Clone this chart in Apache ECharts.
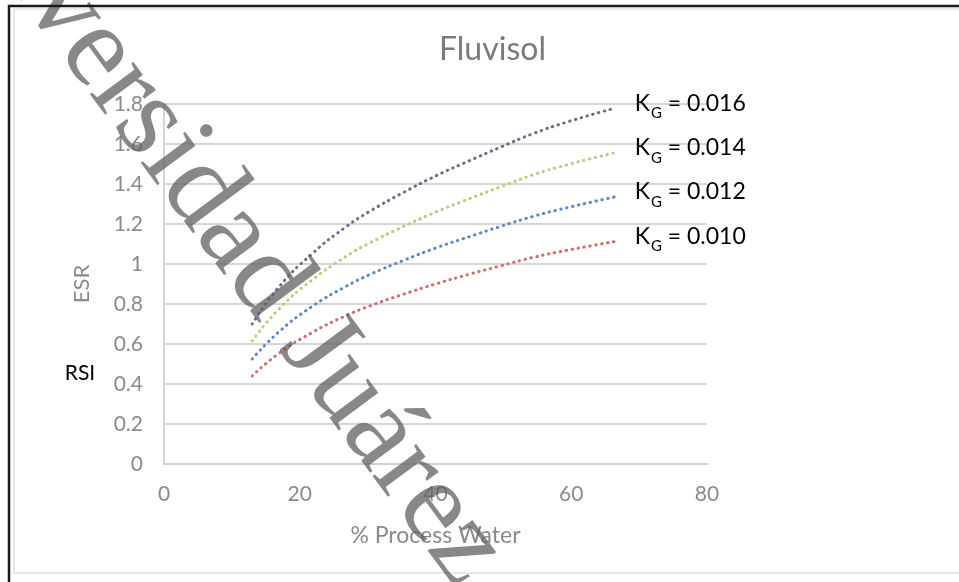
<!DOCTYPE html>
<html><head><meta charset="utf-8">
<script src="https://cdn.jsdelivr.net/npm/echarts@6/dist/echarts.min.js"></script>
<style>html,body{margin:0;padding:0;background:#fff}#c{width:959px;height:582px}</style>
</head><body><div id="c"></div>
<script>
// % Process Water (x) shared by all curves
const processWater = [13, 16.8, 21.7, 26.7, 30.3, 35.3, 40.2, 45.1, 49.5, 54.4, 59.3, 66.4];
// ESR for each K_G
const esrKg010 = [0.44, 0.55, 0.655, 0.74, 0.79, 0.849, 0.902, 0.95, 0.99, 1.033, 1.068, 1.112];
const esrKg012 = [0.525, 0.657, 0.785, 0.886, 0.947, 1.018, 1.082, 1.138, 1.187, 1.238, 1.281, 1.335];
const esrKg014 = [0.615, 0.77, 0.917, 1.035, 1.105, 1.188, 1.262, 1.328, 1.385, 1.446, 1.495, 1.556];
const esrKg016 = [0.70, 0.88, 1.048, 1.183, 1.263, 1.358, 1.443, 1.518, 1.583, 1.652, 1.709, 1.779];
const kgValues = ['0.010', '0.012', '0.014', '0.016'];
const seriesColors = ['#cc706d', '#6088c0', '#bccb84', '#6f6b8f'];

const chart = echarts.init(document.getElementById('c'), null, {renderer: 'canvas'});
const allEsr = [esrKg010, esrKg012, esrKg014, esrKg016];

const series = allEsr.map((vals, i) => ({
  type: 'line',
  name: 'K_G = ' + kgValues[i],
  data: processWater.map((x, j) => [x, vals[j]]),
  smooth: 0.5,
  showSymbol: false,
  silent: true,
  z: 3,
  lineStyle: {color: seriesColors[i], width: 3, type: [0.5, 5.5], cap: 'round'},
  endLabel: {
    show: true,
    distance: 20,
    offset: [0, -5],
    formatter: () => '{k|K}{g|G}{t| = ' + kgValues[i] + '}',
    rich: {
      k: {fontSize: 23, fontFamily: 'Lato', color: '#000'},
      g: {fontSize: 15, fontFamily: 'Lato', color: '#000', padding: [20, 0, 0, 1]},
      t: {fontSize: 23, fontFamily: 'Lato', color: '#000'}
    }
  }
}));

chart.setOption({
  animation: false,
  backgroundColor: '#fff',
  title: {
    text: 'Fluvisol',
    left: 434, top: 29,
    textStyle: {fontFamily: 'Lato', fontSize: 32, fontWeight: 'normal', color: '#7a7a7a'}
  },
  grid: {left: 164, right: 252, top: 104, bottom: 118},
  xAxis: {
    type: 'value', min: 0, max: 80, interval: 20,
    name: '% Process Water', nameLocation: 'middle', nameGap: 60,
    nameTextStyle: {fontFamily: 'Lato', fontSize: 23, color: '#8a8a8a'},
    axisLine: {show: true, lineStyle: {color: '#cfcfcf', width: 2}},
    axisTick: {show: false},
    splitLine: {show: false},
    axisLabel: {fontFamily: 'Lato', fontSize: 21, color: '#8a8a8a', margin: 20}
  },
  yAxis: {
    type: 'value', min: 0, max: 1.8, interval: 0.2,
    name: 'ESR', nameLocation: 'middle', nameGap: 71, nameRotate: 90,
    nameTextStyle: {fontFamily: 'Lato', fontSize: 22, color: '#8a8a8a'},
    axisLine: {show: true, lineStyle: {color: '#d6d6d6', width: 2}},
    axisTick: {show: false},
    splitLine: {show: true, lineStyle: {color: '#d6d6d6', width: 2}},
    axisLabel: {fontFamily: 'Lato', fontSize: 21, color: '#8a8a8a', margin: 21}
  },
  series: series,
  graphic: [
    {type: 'rect', z: 0, shape: {x: 14, y: 9, width: 1000, height: 564}, style: {fill: 'none', stroke: '#e2e2e2', lineWidth: 1.5}},
    {type: 'rect', z: 200, shape: {x: 9, y: 6, width: 1000, height: 700}, style: {fill: 'none', stroke: '#1a1a1a', lineWidth: 2.5}},
    {type: 'text', z: 100, x: 80, y: 373, style: {text: 'RSI', fontFamily: 'Lato', fontSize: 21, fill: '#000', textAlign: 'center', textVerticalAlign: 'middle'}},
    {type: 'text', z: 150, x: -58, y: -158, rotation: -53.5 * Math.PI / 180,
      style: {text: 'Universidad Juárez Autónoma de Tabasco', fontFamily: 'Liberation Serif', fontWeight: 'normal', fontSize: 118,
        fill: 'rgba(95,95,95,0.74)', textAlign: 'left', textVerticalAlign: 'middle'}}
  ]
});
</script>
</body></html>
